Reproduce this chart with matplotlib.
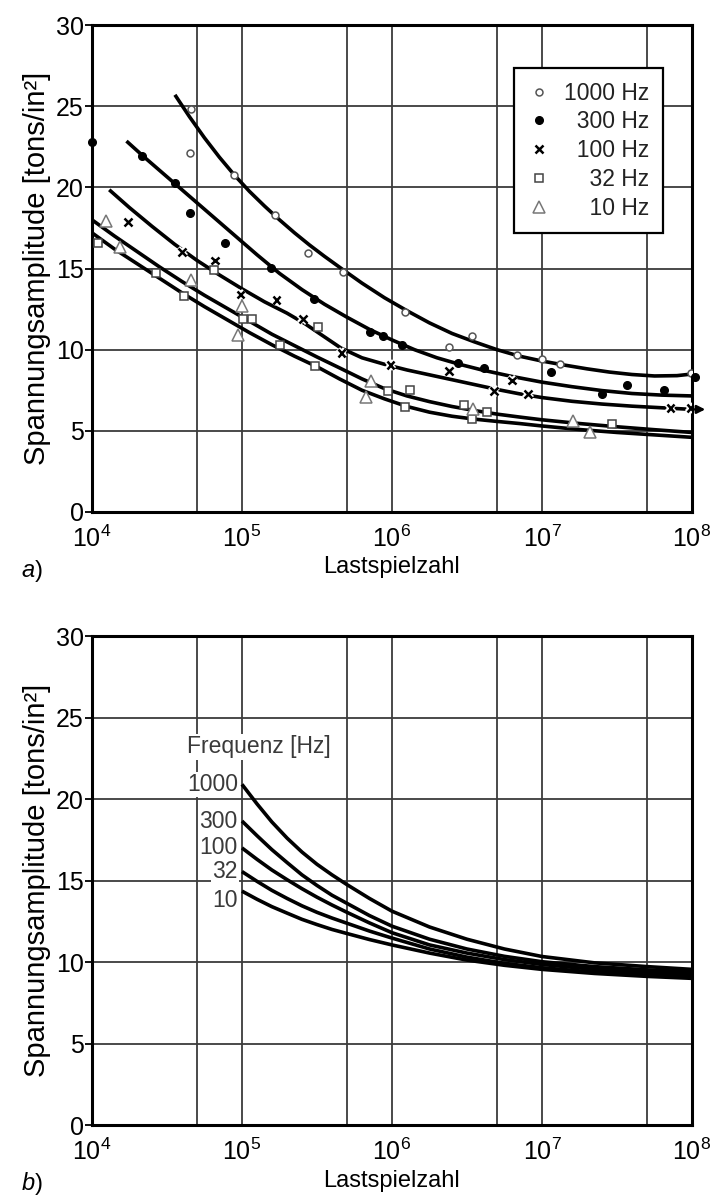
import numpy as np
import matplotlib
matplotlib.use('Agg')
import matplotlib.pyplot as plt
from matplotlib import font_manager, patheffects
from matplotlib.ticker import FixedLocator, NullFormatter

#--------------------------------------
installed = {f.name for f in font_manager.fontManager.ttflist}
mainFont  = 'Liberation Sans Narrow' if 'Liberation Sans Narrow' in installed else 'Liberation Sans'
plt.rcParams['font.family']      = [mainFont, 'DejaVu Sans']
plt.rcParams['mathtext.fontset'] = 'custom'
plt.rcParams['mathtext.rm']      = mainFont
plt.rcParams['mathtext.it']      = mainFont + ':italic'
plt.rcParams['mathtext.bf']      = mainFont + ':bold'

#-------------------------------------- a) Messpunkte
freqLabels = ['1000 Hz', '\u2007300 Hz', '\u2007100 Hz', '\u2007\u200732 Hz', '\u2007\u200710 Hz']

n1000 = [4.6e4, 4.5e4, 8.8e4, 1.66e5, 2.75e5, 4.7e5, 1.23e6, 2.4e6, 3.4e6, 6.8e6, 1.0e7, 1.32e7, 9.8e7]
s1000 = [24.8, 22.1, 20.75, 18.3, 15.95, 14.8, 12.35, 10.15, 10.85, 9.65, 9.45, 9.1, 8.55]

n300 = [1.0e4, 2.16e4, 3.55e4, 4.5e4, 7.7e4, 1.55e5, 3.0e5, 7.1e5, 8.7e5, 1.16e6, 2.75e6, 4.1e6,
        1.15e7, 2.5e7, 3.7e7, 6.5e7, 1.05e8]
s300 = [22.8, 21.95, 20.25, 18.4, 16.6, 15.06, 13.15, 11.1, 10.85, 10.3, 9.2, 8.85,
        8.65, 7.25, 7.85, 7.5, 8.3]

n100 = [1.74e4, 4.0e4, 6.6e4, 9.8e4, 1.7e5, 2.55e5, 4.6e5, 9.8e5, 2.4e6, 4.8e6, 6.3e6, 8.1e6, 7.2e7, 9.8e7]
s100 = [17.85, 16.0, 15.5, 13.4, 13.05, 11.9, 9.8, 9.05, 8.7, 7.45, 8.1, 7.25, 6.4, 6.4]

n32 = [1.1e4, 2.67e4, 4.1e4, 6.5e4, 1.02e5, 1.16e5, 1.8e5, 3.2e5, 3.07e5, 9.4e5, 1.32e6, 1.23e6,
       3.0e6, 3.4e6, 4.3e6, 2.95e7]
s32 = [16.55, 14.75, 13.3, 14.9, 11.9, 11.9, 10.3, 11.4, 9.0, 7.45, 7.5, 6.45,
       6.6, 5.75, 6.15, 5.4]

n10 = [1.24e4, 1.54e4, 4.6e4, 1.0e5, 9.4e4, 7.3e5, 6.7e5, 3.47e6, 1.62e7, 2.1e7]
s10 = [17.9, 16.35, 14.3, 12.7, 10.9, 8.05, 7.1, 6.35, 5.6, 4.95]

#-------------------------------------- a) Ausgleichskurven (x als log10 der Lastspielzahl)
c1000Log = [4.553, 4.65, 4.75, 4.85, 4.95, 5.05, 5.15, 5.25, 5.35, 5.45, 5.55, 5.67, 5.8, 5.95,
            6.1, 6.25, 6.4, 6.55, 6.7, 6.85, 7.0, 7.15, 7.3, 7.45, 7.6, 7.75, 7.9, 8.0]
c1000S   = [25.7, 24.35, 23.05, 21.85, 20.75, 19.75, 18.85, 18.0, 17.2, 16.45, 15.75, 14.95, 14.1, 13.2,
            12.4, 11.65, 11.0, 10.48, 10.0, 9.6, 9.3, 9.05, 8.82, 8.62, 8.47, 8.38, 8.4, 8.5]

c300Log = [4.23, 4.35, 4.5, 4.65, 4.8, 4.95, 5.1, 5.25, 5.4, 5.55, 5.7, 5.85,
           6.0, 6.15, 6.3, 6.45, 6.6, 6.8, 7.0, 7.2, 7.4, 7.6, 7.8, 8.0]
c300S   = [22.85, 21.85, 20.65, 19.45, 18.25, 17.05, 15.85, 14.7, 13.7, 12.8, 12.0, 11.25,
           10.6, 10.0, 9.5, 9.1, 8.75, 8.35, 8.0, 7.72, 7.48, 7.3, 7.2, 7.15]

c100Log = [4.115, 4.25, 4.4, 4.55, 4.7, 4.85, 5.0, 5.15, 5.3, 5.42, 5.54, 5.66, 5.8, 5.95,
           6.1, 6.25, 6.4, 6.55, 6.7, 6.85, 7.0, 7.2, 7.4, 7.6, 7.8, 8.0]
c100S   = [19.85, 18.75, 17.6, 16.5, 15.5, 14.6, 13.75, 12.95, 12.25, 11.6, 10.85, 10.1, 9.5, 9.1,
           8.75, 8.45, 8.15, 7.85, 7.55, 7.28, 7.05, 6.82, 6.65, 6.52, 6.42, 6.32]

cLowLog = [4.0, 4.15, 4.3, 4.45, 4.6, 4.75, 4.9, 5.05, 5.2, 5.35, 5.5, 5.65, 5.8,
           5.95, 6.1, 6.25, 6.4, 6.55, 6.7, 6.85, 7.0, 7.25, 7.5, 7.75, 8.0]
c32S    = [18.0, 17.0, 16.05, 15.1, 14.2, 13.35, 12.55, 11.75, 10.95, 10.25, 9.55, 8.88, 8.2,
           7.6, 7.15, 6.8, 6.5, 6.25, 6.03, 5.85, 5.68, 5.45, 5.25, 5.07, 4.9]
c10S    = [17.2, 16.2, 15.3, 14.4, 13.5, 12.65, 11.85, 11.05, 10.3, 9.6, 8.95, 8.2, 7.5,
           6.97, 6.5, 6.15, 5.9, 5.72, 5.58, 5.45, 5.3, 5.08, 4.9, 4.75, 4.6]

#-------------------------------------- b) Kurven je Frequenz
bLabels = ['1000', '300', '100', '32', '10']
bN      = [1.0e5, 1.26e5, 1.58e5, 2.0e5, 2.51e5, 3.16e5, 3.98e5, 5.01e5, 7.08e5,
           1.0e6, 1.78e6, 3.16e6, 5.62e6, 1.0e7, 2.24e7, 5.01e7, 1.0e8]
b1000   = [20.9, 19.7, 18.6, 17.6, 16.75, 16.0, 15.35, 14.75, 13.9,
           13.12, 12.15, 11.4, 10.8, 10.34, 9.95, 9.72, 9.55]
b300    = [18.65, 17.75, 16.9, 16.1, 15.35, 14.7, 14.1, 13.6, 12.85,
           12.2, 11.4, 10.8, 10.35, 10.02, 9.72, 9.52, 9.4]
b100    = [17.0, 16.3, 15.65, 15.05, 14.5, 13.98, 13.5, 13.05, 12.4,
           11.8, 11.05, 10.55, 10.15, 9.85, 9.55, 9.37, 9.25]
b32     = [15.55, 14.95, 14.4, 13.9, 13.45, 13.05, 12.7, 12.38, 11.9,
           11.47, 10.8, 10.3, 9.92, 9.65, 9.38, 9.2, 9.1]
b10     = [14.35, 13.85, 13.4, 13.0, 12.62, 12.3, 12.0, 11.75, 11.38,
           11.05, 10.55, 10.12, 9.8, 9.55, 9.3, 9.12, 9.0]

#--------------------------------------
fig = plt.figure(figsize=(7.13, 12.03), dpi=100)
axA = fig.add_axes([0.129, 0.5744, 0.8415, 0.4048])
axB = fig.add_axes([0.129, 0.0648, 0.8415, 0.4065])

def styleAxes(ax):
    ax.set_xscale('log')
    ax.set_xlim(1e4, 1e8)
    ax.set_ylim(0, 30)
    ax.xaxis.set_major_locator(FixedLocator([1e4, 1e5, 1e6, 1e7, 1e8]))
    ax.xaxis.set_minor_locator(FixedLocator([5e4, 5e5, 5e6, 5e7]))
    ax.xaxis.set_minor_formatter(NullFormatter())
    ax.set_yticks(range(0, 31, 5))
    ax.grid(True, which='both', color='#3c3c3c', linewidth=1.3)
    ax.set_axisbelow(True)
    ax.tick_params(axis='x', which='both', length=0, labelsize=18, pad=10)
    ax.tick_params(axis='y', length=5, width=1.3, labelsize=18, pad=1)
    for sp in ax.spines.values():
        sp.set_linewidth(2.2)
    ax.set_ylabel('Spannungsamplitude [tons/in\u00b2]', fontsize=21, labelpad=3)
    ax.set_xlabel('Lastspielzahl', fontsize=17, labelpad=3)

styleAxes(axA)
styleAxes(axB)

#-------------------------------------- a)
lineKw = dict(color='black', linewidth=2.6, solid_capstyle='butt', solid_joinstyle='round', zorder=2)
for cl, cs in [(c1000Log, c1000S), (c300Log, c300S), (c100Log, c100S), (cLowLog, c32S), (cLowLog, c10S)]:
    axA.plot(10.0 ** np.array(cl), cs, **lineKw)

halo = [patheffects.withStroke(linewidth=4, foreground='white')]
h1000, = axA.plot(n1000, s1000, ls='none', marker='o', ms=5, mfc='white', mec='#555555', mew=1.1, zorder=4)
h300,  = axA.plot(n300, s300, ls='none', marker='o', ms=5.5, mfc='black', mec='black', zorder=4, clip_on=False)
h100,  = axA.plot(n100, s100, ls='none', marker='x', ms=5.5, mec='black', mew=1.8, zorder=4,
                  path_effects=halo)
h32,   = axA.plot(n32, s32, ls='none', marker='s', ms=6, mfc='white', mec='#444444', mew=1.1, zorder=4)
h10,   = axA.plot(n10, s10, ls='none', marker='^', ms=8, mfc='white', mec='#777777', mew=1.1, zorder=4)

endN = 10.0 ** c100Log[-1]
axA.annotate('', xy=(endN * 1.28, c100S[-1]), xytext=(endN, c100S[-1]),
             arrowprops=dict(arrowstyle='-|>', color='black', lw=1.8, mutation_scale=12),
             annotation_clip=False)

leg = axA.legend([h1000, h300, h100, h32, h10], freqLabels, loc='upper right',
                 bbox_to_anchor=(0.952, 0.912), fontsize=16.5, frameon=True, fancybox=False,
                 framealpha=1, edgecolor='black', handlelength=1.0, handletextpad=0.6,
                 borderpad=0.6, labelspacing=0.25, borderaxespad=0)
leg.get_frame().set_linewidth(1.6)
for t in leg.get_texts():
    t.set_color('#222222')

fig.text(0.03, 0.5255, r'$\mathit{a}$)', fontsize=17, va='center')

#-------------------------------------- b)
for bs in [b1000, b300, b100, b32, b10]:
    axB.plot(bN, bs, **lineKw)

labelDy = [0, 0, 0, 0, -7]
for lab, bs, dy in zip(bLabels, [b1000, b300, b100, b32, b10], labelDy):
    axB.annotate(lab, xy=(bN[0], bs[0]), xytext=(-3, dy), textcoords='offset points',
                 ha='right', va='center', fontsize=16.5, color='#3a3a3a',
                 bbox=dict(boxstyle='square,pad=0.05', fc='white', ec='none'))
axB.text(1.3e5, 23.2, 'Frequenz [Hz]', ha='center', va='center', fontsize=16.5, color='#3a3a3a',
         bbox=dict(boxstyle='square,pad=0.08', fc='white', ec='none'))

fig.text(0.03, 0.0165, r'$\mathit{b}$)', fontsize=17, va='center')

fig.savefig('out.png', dpi=100)
